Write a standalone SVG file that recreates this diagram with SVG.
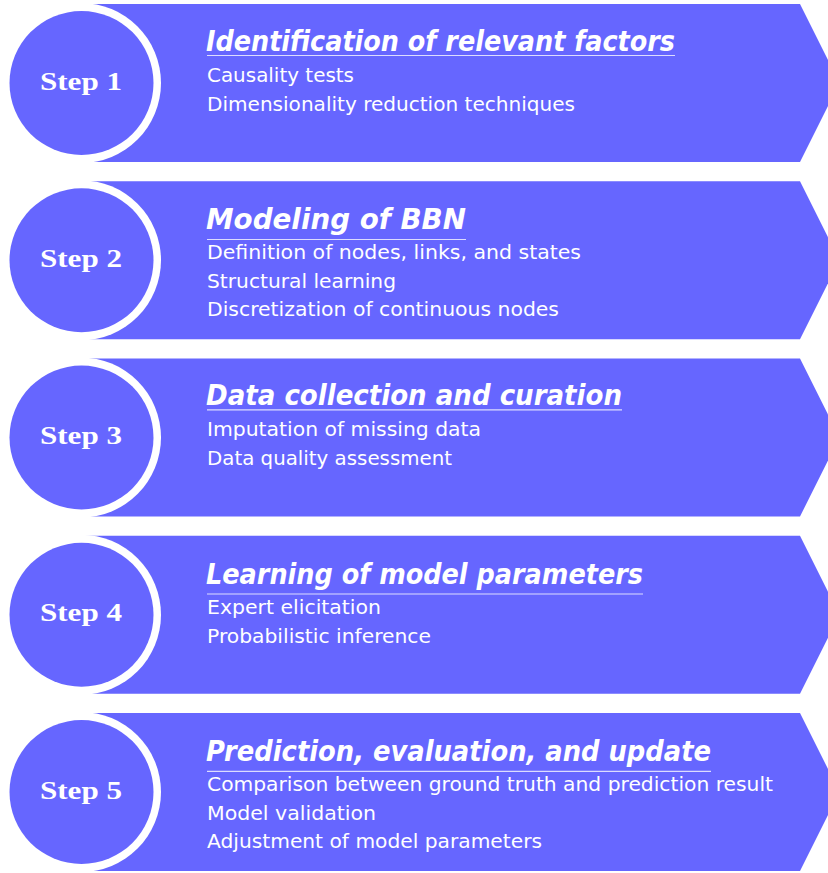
<svg xmlns="http://www.w3.org/2000/svg" width="828" height="873" viewBox="0 0 828 873">
<defs>
<style>
.banner{fill:#6666ff}
.ring{fill:#ffffff}
.disc{fill:#6666ff}
.step{font-family:"Liberation Serif","DejaVu Serif",serif;font-weight:bold;font-size:26px;fill:#ffffff;text-anchor:middle}
.title{font-family:"DejaVu Sans","Liberation Sans",sans-serif;font-weight:bold;font-style:italic;font-size:27.5px;fill:#ffffff}
.body{font-family:"DejaVu Sans","Liberation Sans",sans-serif;font-size:20px;fill:#ffffff}
.ul{stroke:#dcdcff;stroke-width:1.2;fill:none}
</style>
</defs>
<rect width="828" height="873" fill="#ffffff"/>

<g id="step1">
<polygon class="banner" points="81,4 800,4 839.5,83 800,162 81,162"/>
<circle class="ring" cx="81" cy="83" r="80"/>
<circle class="disc" cx="81.5" cy="83" r="72"/>
<text class="step" x="81" y="89.5" textLength="82" lengthAdjust="spacingAndGlyphs">Step 1</text>
<text class="title" x="206" y="50.8" textLength="469" lengthAdjust="spacingAndGlyphs">Identification of relevant factors</text>
<line class="ul" x1="207" y1="55.5" x2="675" y2="55.5"/>
<text class="body" x="207" y="81.5" textLength="147" lengthAdjust="spacingAndGlyphs">Causality tests</text>
<text class="body" x="207" y="110.5" textLength="368" lengthAdjust="spacingAndGlyphs">Dimensionality reduction techniques</text>
</g>

<g id="step2">
<polygon class="banner" points="81,181.25 800,181.25 839.5,260.25 800,339.25 81,339.25"/>
<circle class="ring" cx="81" cy="260.25" r="80"/>
<circle class="disc" cx="81.5" cy="260.25" r="72"/>
<text class="step" x="81" y="266.75" textLength="82" lengthAdjust="spacingAndGlyphs">Step 2</text>
<text class="title" x="206" y="229" textLength="260" lengthAdjust="spacingAndGlyphs">Modeling of BBN</text>
<line class="ul" x1="207" y1="239.5" x2="466" y2="239.5"/>
<text class="body" x="207" y="259.25" textLength="374" lengthAdjust="spacingAndGlyphs">Definition of nodes, links, and states</text>
<text class="body" x="207" y="287.75" textLength="189" lengthAdjust="spacingAndGlyphs">Structural learning</text>
<text class="body" x="207" y="316.25" textLength="352" lengthAdjust="spacingAndGlyphs">Discretization of continuous nodes</text>
</g>

<g id="step3">
<polygon class="banner" points="81,358.5 800,358.5 839.5,437.5 800,516.5 81,516.5"/>
<circle class="ring" cx="81" cy="437.5" r="80"/>
<circle class="disc" cx="81.5" cy="437.5" r="72"/>
<text class="step" x="81" y="444" textLength="82" lengthAdjust="spacingAndGlyphs">Step 3</text>
<text class="title" x="206" y="405.3" textLength="416" lengthAdjust="spacingAndGlyphs">Data collection and curation</text>
<line class="ul" x1="207" y1="409.8" x2="622" y2="409.8"/>
<text class="body" x="207" y="436" textLength="274" lengthAdjust="spacingAndGlyphs">Imputation of missing data</text>
<text class="body" x="207" y="465" textLength="245" lengthAdjust="spacingAndGlyphs">Data quality assessment</text>
</g>

<g id="step4">
<polygon class="banner" points="81,535.75 800,535.75 839.5,614.75 800,693.75 81,693.75"/>
<circle class="ring" cx="81" cy="614.75" r="80"/>
<circle class="disc" cx="81.5" cy="614.75" r="72"/>
<text class="step" x="81" y="621.25" textLength="82" lengthAdjust="spacingAndGlyphs">Step 4</text>
<text class="title" x="206" y="583.5" textLength="437" lengthAdjust="spacingAndGlyphs">Learning of model parameters</text>
<line class="ul" x1="207" y1="594" x2="643" y2="594"/>
<text class="body" x="207" y="614" textLength="174" lengthAdjust="spacingAndGlyphs">Expert elicitation</text>
<text class="body" x="207" y="642.5" textLength="224" lengthAdjust="spacingAndGlyphs">Probabilistic inference</text>
</g>

<g id="step5">
<polygon class="banner" points="81,713 800,713 839.5,792 800,871 81,871"/>
<circle class="ring" cx="81" cy="792" r="80"/>
<circle class="disc" cx="81.5" cy="792" r="72"/>
<text class="step" x="81" y="798.5" textLength="82" lengthAdjust="spacingAndGlyphs">Step 5</text>
<text class="title" x="206" y="760.8" textLength="505" lengthAdjust="spacingAndGlyphs">Prediction, evaluation, and update</text>
<line class="ul" x1="207" y1="771.3" x2="711" y2="771.3"/>
<text class="body" x="207" y="791" textLength="566" lengthAdjust="spacingAndGlyphs">Comparison between ground truth and prediction result</text>
<text class="body" x="207" y="819.5" textLength="169" lengthAdjust="spacingAndGlyphs">Model validation</text>
<text class="body" x="207" y="848" textLength="335" lengthAdjust="spacingAndGlyphs">Adjustment of model parameters</text>
</g>

<g id="connectors"/>
</svg>
